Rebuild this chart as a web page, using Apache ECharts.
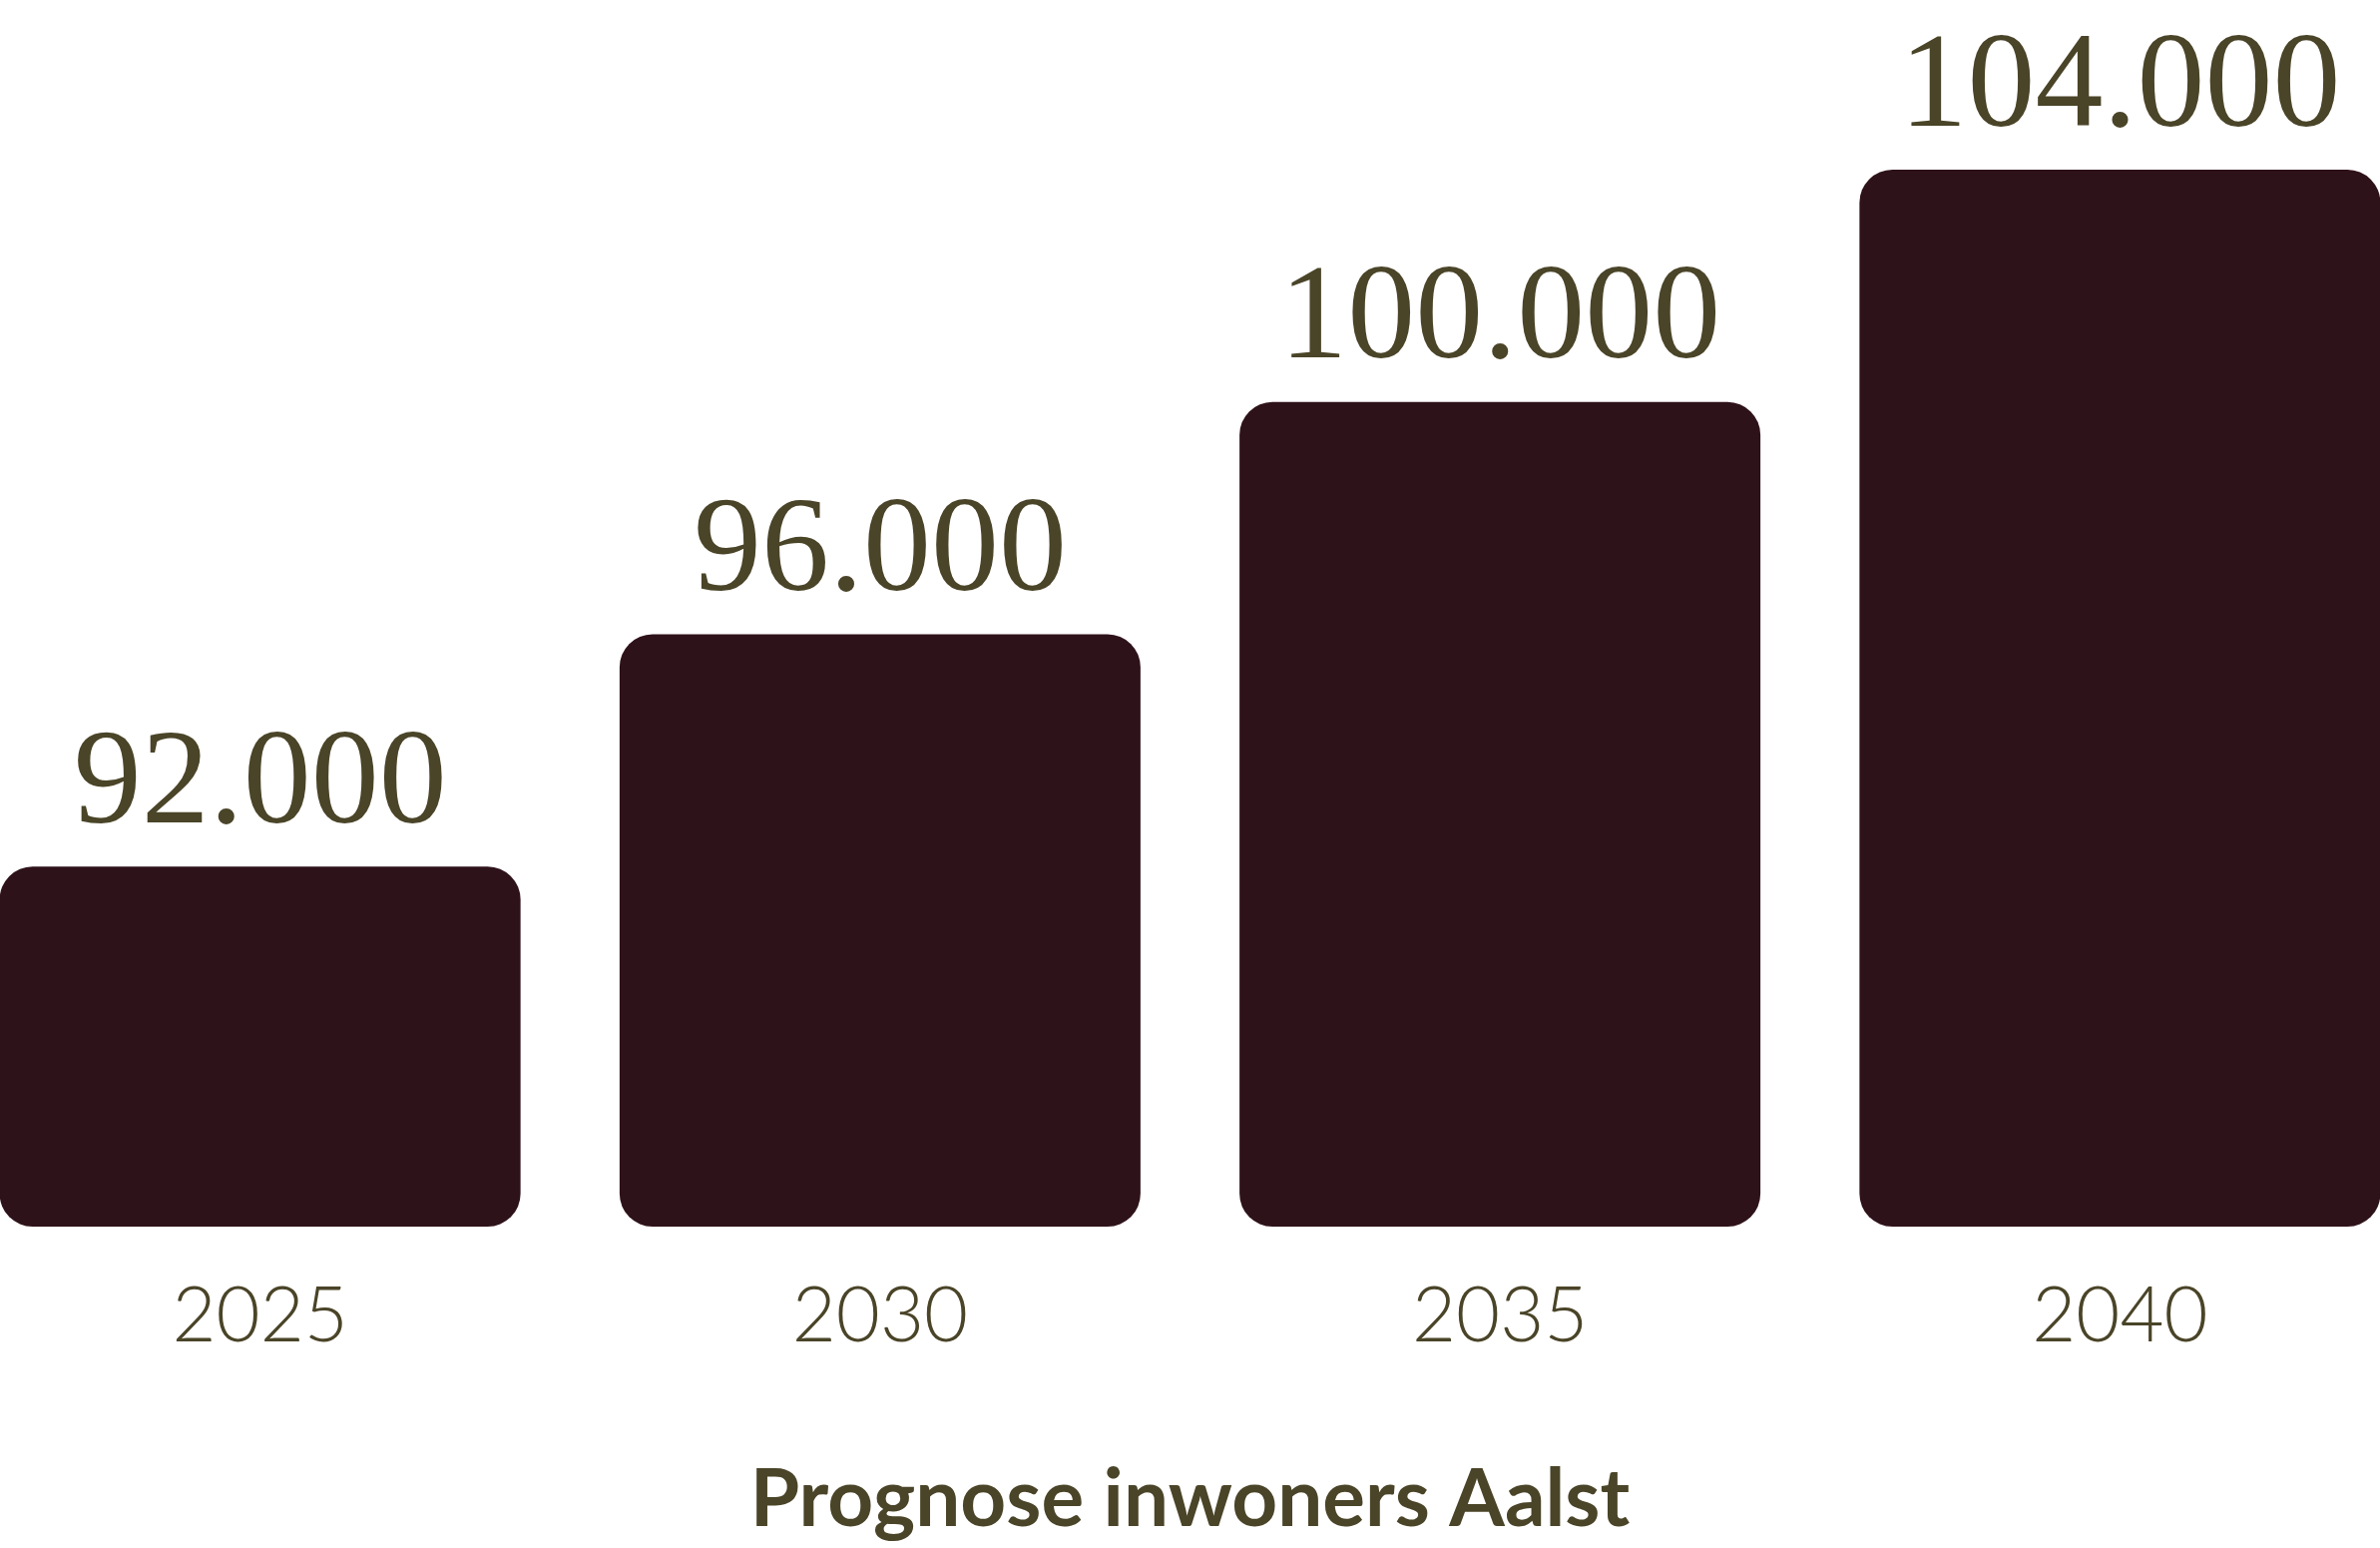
<!DOCTYPE html>
<html>
<head>
<meta charset="utf-8">
<script src="https://cdn.jsdelivr.net/npm/echarts@6/dist/echarts.min.js"></script>
<style>html,body{margin:0;padding:0;background:#fff}#c{width:2385px;height:1551px}</style>
</head>
<body>
<div id="c"></div>
<script>
const categories = ['2025', '2030', '2035', '2040'];
const values = [92000, 96000, 100000, 104000];
const valueLabels = ['92.000', '96.000', '100.000', '104.000'];
const chartTitle = 'Prognose inwoners Aalst';

const chart = echarts.init(document.getElementById('c'));
chart.setOption({
  animation: false,
  backgroundColor: '#ffffff',
  title: {
    text: chartTitle,
    left: 'center',
    top: 1458,
    textStyle: { fontFamily: 'Lato', fontWeight: 'bold', fontSize: 80, color: '#4a4428' }
  },
  grid: { left: -50, right: -50, top: 170, bottom: 322, containLabel: false, outerBoundsMode: 'none' },
  xAxis: {
    type: 'category',
    data: categories,
    axisLine: { show: false },
    axisTick: { show: false },
    axisLabel: { margin: 52, fontFamily: 'Lato', fontWeight: 300, fontSize: 76, color: '#4a4428' }
  },
  yAxis: {
    type: 'value',
    min: 85800,
    max: 104000,
    show: false,
    splitLine: { show: false }
  },
  series: [{
    type: 'bar',
    data: values,
    barWidth: 522,
    itemStyle: { color: '#2e121a', borderRadius: 33 },
    label: {
      show: true,
      position: 'top',
      distance: 12,
      formatter: p => valueLabels[p.dataIndex],
      fontFamily: 'Liberation Serif',
      fontSize: 136,
      color: '#4a4428'
    }
  }]
});
</script>
</body>
</html>
